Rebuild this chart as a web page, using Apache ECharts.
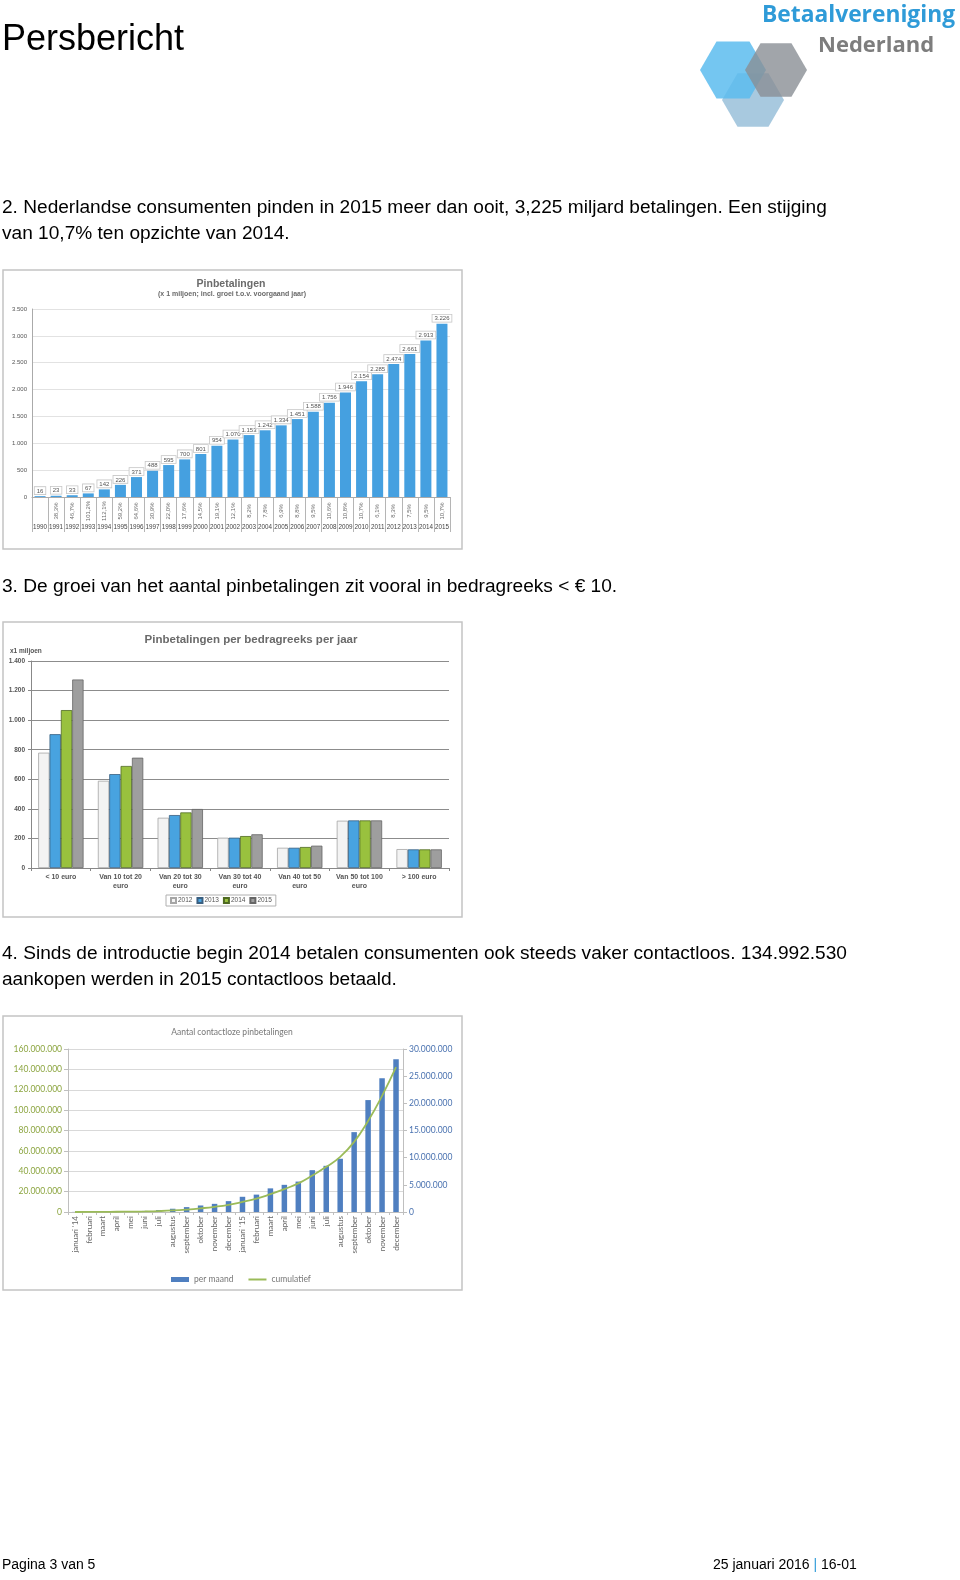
<!DOCTYPE html>
<html><head><meta charset="utf-8">
<script src="https://cdn.jsdelivr.net/npm/echarts@6/dist/echarts.min.js"></script>
<style>html,body{margin:0;padding:0;background:#fff}#c{width:960px;height:1580px}</style>
</head><body><div id="c"></div>
<script>
// ---------- DATA ----------
const years = ['1990','1991','1992','1993','1994','1995','1996','1997','1998','1999','2000','2001','2002','2003','2004','2005','2006','2007','2008','2009','2010','2011','2012','2013','2014','2015'];
const pinValues = [16,23,33,67,142,226,371,488,595,700,801,954,1070,1153,1242,1334,1451,1588,1756,1946,2154,2285,2474,2661,2913,3226];
const growthLabels = ['','38,3%','46,7%','101,2%','112,1%','59,2%','64,6%','30,9%','22,0%','17,6%','14,5%','19,1%','12,1%','8,2%','7,8%','6,9%','8,8%','9,5%','10,6%','10,8%','10,7%','6,1%','8,3%','7,5%','9,5%','10,7%'];

const bandCategories = ['< 10 euro','Van 10 tot 20\neuro','Van 20 tot 30\neuro','Van 30 tot 40\neuro','Van 40 tot 50\neuro','Van 50 tot 100\neuro','> 100 euro'];
const bandYears = ['2012','2013','2014','2015'];
const band2012 = [780,590,340,205,137,320,128];
const band2013 = [905,635,358,205,137,322,126];
const band2014 = [1068,690,376,216,142,322,126];
const band2015 = [1275,746,399,228,151,322,126];

const months = ["januari '14",'februari','maart','april','mei','juni','juli','augustus','september','oktober','november','december',"januari '15",'februari','maart','april','mei','juni','juli','augustus','september','oktober','november','december'];
// in millions
const perMaand = [0.02,0.04,0.07,0.1,0.14,0.2,0.35,0.6,0.9,1.2,1.5,2.0,2.8,3.2,4.35,5.0,5.6,7.7,8.5,9.8,14.7,20.6,24.6,28.1];
const cumulatief = [0.02,0.06,0.13,0.23,0.37,0.57,0.92,1.5,2.4,3.6,5.1,7.1,9.9,13.1,17.5,22.5,28.1,35.8,44.3,54.1,68.8,89.4,114.0,142.1];

// ---------- HELPERS ----------
const AR = '"Liberation Sans", Arial, sans-serif';
const CAL = 'Lato, "Open Sans", sans-serif';
const fmt = v => String(Math.round(v)).replace(/\B(?=(\d{3})+(?!\d))/g, '.');
function txt(text, x, y, size, color, opts) {
  opts = opts || {};
  return { type:'text', silent:true, z:10, style:{
    text, x, y, fill: color,
    font: (opts.weight || 'normal') + ' ' + size + 'px ' + (opts.family || AR),
    textAlign: opts.align || 'left', align: opts.align || 'left',
    textVerticalAlign:'middle', verticalAlign:'middle', rich: opts.rich
  }};
}
function box(x, y, w, h) {
  return { type:'rect', silent:true, z:0, shape:{x, y, width:w, height:h},
    style:{ fill:'#fff', stroke:'#c4c4c4', lineWidth:1.5 } };
}
function hex(cx, cy, r, color, op) {
  const pts = [];
  for (let k = 0; k < 6; k++) { const a = Math.PI / 3 * k; pts.push([cx + r * Math.cos(a), cy + r * Math.sin(a)]); }
  return { type:'polygon', silent:true, z:5, shape:{points: pts}, style:{ fill: color, opacity: op } };
}

const chart = echarts.init(document.getElementById('c'), null, {renderer:'canvas'});
const option = {
  animation: false,
  backgroundColor: '#fff',
  graphic: { elements: [
    txt('Persbericht', 2, 40, 36, '#000'),
    txt('Betaalvereniging', 762, 16, 22.8, '#2f9bd8', {weight:'bold', family:'"Open Sans", sans-serif'}),
    txt('Nederland', 818, 46, 22, '#7d7d7d', {weight:'bold', family:'"Open Sans", sans-serif'}),
    hex(753, 100, 31, '#9fc3dc', 0.9),
    hex(733, 70, 33, '#5cbcef', 0.85),
    hex(776, 70, 31, '#8a8f95', 0.8),
    txt('2. Nederlandse consumenten pinden in 2015 meer dan ooit, 3,225 miljard betalingen. Een stijging', 2, 208, 19.1, '#000'),
    txt('van 10,7% ten opzichte van 2014.', 2, 234, 19.1, '#000'),
    txt('3. De groei van het aantal pinbetalingen zit vooral in bedragreeks < € 10.', 2, 587, 19.1, '#000'),
    txt('4. Sinds de introductie begin 2014 betalen consumenten ook steeds vaker contactloos. 134.992.530', 2, 954, 19.1, '#000'),
    txt('aankopen werden in 2015 contactloos betaald.', 2, 980, 19.1, '#000'),
    box(3, 270, 459, 279),
    box(3, 622, 459, 295),
    box(3, 1016, 459, 274),
    txt('Pinbetalingen', 231, 284, 10.5, '#6a6a6a', {weight:'bold', align:'center'}),
    txt('(x 1 miljoen; incl. groei t.o.v. voorgaand jaar)', 232, 294, 7, '#6a6a6a', {weight:'bold', align:'center'}),
    txt('Pinbetalingen per bedragreeks per jaar', 251, 640, 11.5, '#6a6a6a', {weight:'bold', align:'center'}),
    txt('x1 miljoen', 10, 651, 6.5, '#555', {weight:'bold'}),
    txt('Aantal contactloze pinbetalingen', 232, 1032, 8.5, '#777', {align:'center', family: CAL}),
    txt('Pagina 3 van 5', 2, 1565, 14, '#000'),
    txt('25 januari 2016 {b||} 16-01', 713, 1565, 14, '#000', {rich:{b:{fill:'#2f9bd8', fontSize:14, fontFamily:'Liberation Sans'}}})
  ]},
  grid: [
    {left:32, top:309, width:418, height:188},
    {left:32, top:497, width:418, height:35},
    {left:31, top:661, width:418, height:207, show:true, borderColor:'#9a9a9a', borderWidth:1},
    {left:68, top:1049, width:335, height:163}
  ],
  xAxis: [
    {gridIndex:0, type:'category', data:years, axisLabel:{show:false}, axisTick:{show:false},
      axisLine:{lineStyle:{color:'#aaa'}}},
    {gridIndex:1, type:'category', data:years, position:'bottom',
      axisLine:{show:false}, axisTick:{show:false},
      axisLabel:{inside:true, margin:2, fontSize:6.3, color:'#444', interval:0, hideOverlap:false, fontFamily:AR},
      splitLine:{show:true, interval:0, lineStyle:{color:'#b5b5b5', width:1}}},
    {gridIndex:2, type:'category', data:bandCategories,
      axisLine:{lineStyle:{color:'#888'}}, axisTick:{show:true, length:3, lineStyle:{color:'#888'}},
      axisLabel:{fontSize:7, fontWeight:'bold', color:'#555', margin:5, lineHeight:9, interval:0, hideOverlap:false, fontFamily:AR}},
    {gridIndex:3, type:'category', data:months,
      axisLine:{lineStyle:{color:'#bfbfbf'}}, axisTick:{show:true, length:3, lineStyle:{color:'#bfbfbf'}},
      axisLabel:{rotate:90, fontSize:8, color:'#666', margin:4, interval:0, fontFamily:CAL}}
  ],
  yAxis: [
    {gridIndex:0, type:'value', min:0, max:3500, interval:500,
      axisLine:{show:true, lineStyle:{color:'#aaa'}}, axisTick:{show:false},
      axisLabel:{fontSize:6, color:'#555', margin:5, formatter:fmt, fontFamily:AR},
      splitLine:{lineStyle:{color:'#e2e2e2'}}},
    {gridIndex:1, type:'value', min:0, max:1, show:false},
    {gridIndex:2, type:'value', min:0, max:1400, interval:200,
      axisLine:{show:true, lineStyle:{color:'#888'}}, axisTick:{show:true, length:3, lineStyle:{color:'#888'}},
      axisLabel:{fontSize:6.5, fontWeight:'bold', color:'#555', margin:6, formatter:fmt, fontFamily:AR},
      splitLine:{lineStyle:{color:'#8c8c8c'}}},
    {gridIndex:3, type:'value', min:0, max:160, interval:20, position:'left',
      axisLine:{show:true, lineStyle:{color:'#bfbfbf'}}, axisTick:{show:true, length:4, lineStyle:{color:'#bfbfbf'}},
      axisLabel:{fontSize:8.5, color:'#8ca540', margin:6, formatter:v=>fmt(v*1e6), fontFamily:CAL},
      splitLine:{lineStyle:{color:'#d9d9d9'}}},
    {gridIndex:3, type:'value', min:0, max:30, interval:5, position:'right',
      axisLine:{show:true, lineStyle:{color:'#bfbfbf'}}, axisTick:{show:true, length:4, lineStyle:{color:'#bfbfbf'}},
      axisLabel:{fontSize:8.5, color:'#4a72b0', margin:6, formatter:v=>fmt(v*1e6), fontFamily:CAL},
      splitLine:{show:false}}
  ],
  legend: [
    {data:bandYears, left:166, top:895, orient:'horizontal', icon:'rect', itemWidth:5, itemHeight:5, itemGap:4,
      borderColor:'#b0b0b0', borderWidth:1, padding:[2,4],
      textStyle:{fontSize:6.5, color:'#555', fontFamily:AR, padding:[0,0,0,-3]}},
    {data:[{name:'per maand', icon:'rect'}, {name:'cumulatief', itemStyle:{opacity:0}}], left:166, top:1270, itemWidth:18, itemHeight:5, itemGap:14,
      textStyle:{fontSize:8.5, color:'#777', fontFamily:CAL}}
  ],
  series: [
    {type:'bar', name:'Pinbetalingen', xAxisIndex:0, yAxisIndex:0, data:pinValues, barWidth:11,
      itemStyle:{color:'#45a0e0'},
      label:{show:true, position:'top', distance:2, formatter:p=>fmt(p.value), fontSize:6, color:'#555', fontFamily:AR,
        backgroundColor:'#fff', borderColor:'#c6c6c6', borderWidth:0.8, padding:[1,2,0,2]}},
    {type:'scatter', name:'groei', xAxisIndex:1, yAxisIndex:1, silent:true,
      data: growthLabels.map((g,i)=>[i,0.6]), symbolSize:1, itemStyle:{color:'rgba(0,0,0,0)'},
      label:{show:true, position:'inside', rotate:90, formatter:p=>growthLabels[p.dataIndex], fontSize:6, color:'#444', fontFamily:AR}},
    {type:'bar', name:'2012', xAxisIndex:2, yAxisIndex:2, data:band2012, barGap:'0%', barCategoryGap:'24%',
      itemStyle:{color:'#f3f3f3', borderColor:'#a5a5a5', borderWidth:0.8}},
    {type:'bar', name:'2013', xAxisIndex:2, yAxisIndex:2, data:band2013, barGap:'0%', barCategoryGap:'24%',
      itemStyle:{color:'#48a3e0', borderColor:'#3a5f80', borderWidth:0.8}},
    {type:'bar', name:'2014', xAxisIndex:2, yAxisIndex:2, data:band2014, barGap:'0%', barCategoryGap:'24%',
      itemStyle:{color:'#99c13e', borderColor:'#4f6a22', borderWidth:0.8}},
    {type:'bar', name:'2015', xAxisIndex:2, yAxisIndex:2, data:band2015, barGap:'0%', barCategoryGap:'24%',
      itemStyle:{color:'#9e9e9e', borderColor:'#666', borderWidth:0.8}},
    {type:'bar', name:'per maand', xAxisIndex:3, yAxisIndex:4, data:perMaand, barWidth:5.5,
      itemStyle:{color:'#4f7fc0'}},
    {type:'line', name:'cumulatief', xAxisIndex:3, yAxisIndex:3, data:cumulatief, smooth:true, symbol:'none',
      lineStyle:{color:'#9bbb59', width:1.8}, itemStyle:{color:'#9bbb59'}, z:5}
  ]
};
chart.setOption(option);
</script>
</body></html>
